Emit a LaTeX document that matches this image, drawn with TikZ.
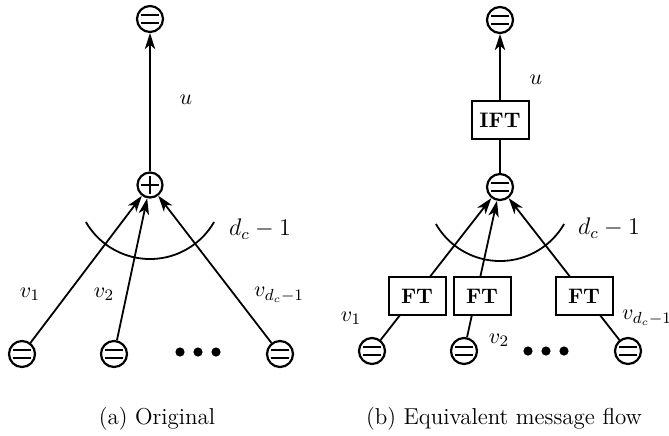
\documentclass[tikz,border=0pt]{standalone}
\usetikzlibrary{arrows.meta}

\tikzset{
  % equality (variable) node: circle with two bars
  eqnode/.style={circle, draw, line width=1.1pt, minimum size=13pt, inner sep=0pt,
    path picture={
      \draw[line width=1.1pt]
        ([xshift=-4.6pt,yshift=2pt]path picture bounding box.center) -- ++(9.2pt,0)
        ([xshift=-4.6pt,yshift=-2pt]path picture bounding box.center) -- ++(9.2pt,0);
    }},
  % parity (sum) node: circle with a plus
  plusnode/.style={circle, draw, line width=1.1pt, minimum size=12.5pt, inner sep=0pt,
    path picture={
      \draw[line width=1.1pt]
        ([xshift=-4.5pt]path picture bounding box.center) -- ++(9pt,0)
        ([yshift=-4.5pt]path picture bounding box.center) -- ++(0,9pt);
    }},
  trbox/.style={draw, line width=1pt, fill=white, minimum width=28.5pt,
    minimum height=19pt, inner sep=0pt, font=\fontsize{10.5}{12}\selectfont\bfseries},
  conn/.style={line width=0.9pt},
  msg/.style={conn, -{Stealth[length=8pt,width=5.2pt,inset=2.2pt]}},
  lbl/.style={font=\fontsize{11}{13}\selectfont, inner sep=0pt},
  biglbl/.style={font=\fontsize{12}{14}\selectfont, inner sep=0pt},
  captext/.style={font=\fontsize{11.5}{13}\selectfont, inner sep=0pt},
  degarc/.style={line width=0.9pt},
  bigdot/.style={radius=2.3pt}
}

\begin{document}
\begin{tikzpicture}[x=0.5pt,y=-0.5pt]
  \useasboundingbox (0,0) rectangle (669,435);

  % ---------------- (a) original check node ----------------
  \node[eqnode]   (ta) at (150,19)  {};
  \node[plusnode] (pa) at (150,185) {};
  \node[eqnode]   (a1) at (22,354)  {};
  \node[eqnode]   (a2) at (114,354) {};
  \node[eqnode]   (a3) at (280,354) {};

  \draw[msg] (pa) -- (ta);
  \draw[msg] (a1) -- (pa);
  \draw[msg] (a2) -- (pa);
  \draw[msg] (a3) -- (pa);

  \draw[degarc] (pa) ++(210:37pt) arc[start angle=210, end angle=330, radius=37pt];

  \fill (180,352) circle[bigdot];
  \fill (198,352) circle[bigdot];
  \fill (216,352) circle[bigdot];

  \node[lbl]    (ua)  at (186,100) {$u$};
  \node[lbl]    (va1) at (30,294)  {$v_1$};
  \node[lbl]    (va2) at (104,294) {$v_2$};
  \node[lbl]    (va3) at (279,295) {$v_{d_c-1}$};
  \node[biglbl] (da)  at (260,229) {$d_c-1$};
  \node[captext] (capa) at (157,419) {(a) Original};

  % ---------------- (b) equivalent message flow ----------------
  \node[eqnode] (tb) at (500,20)  {};
  \node[eqnode] (mb) at (500,187) {};
  \node[eqnode] (b1) at (372,351) {};
  \node[eqnode] (b2) at (464,351) {};
  \node[eqnode] (b3) at (628,351) {};

  \draw[msg] (b1) -- (mb);
  \draw[msg] (b2) -- (mb);
  \draw[msg] (b3) -- (mb);

  \node[trbox] (ift) at (500,120) {IFT};
  \node[trbox] (f1)  at (417,296) {FT};
  \node[trbox] (f2)  at (482,296) {FT};
  \node[trbox] (f3)  at (584,296) {FT};

  \draw[conn] (mb) -- (ift);
  \draw[msg] (ift) -- (tb);

  \draw[degarc] (mb) ++(210:37pt) arc[start angle=210, end angle=330, radius=37pt];

  \fill (528,351) circle[bigdot];
  \fill (546,351) circle[bigdot];
  \fill (564,351) circle[bigdot];

  \node[lbl]    (ub)  at (536,80)  {$u$};
  \node[lbl]    (vb1) at (351,318) {$v_1$};
  \node[lbl]    (vb2) at (499,340) {$v_2$};
  \node[lbl]    (vb3) at (647,318) {$v_{d_c-1}$};
  \node[biglbl] (db)  at (609,228) {$d_c-1$};
  \node[captext] (capb) at (504,419) {(b) Equivalent message flow};
\end{tikzpicture}
\end{document}
